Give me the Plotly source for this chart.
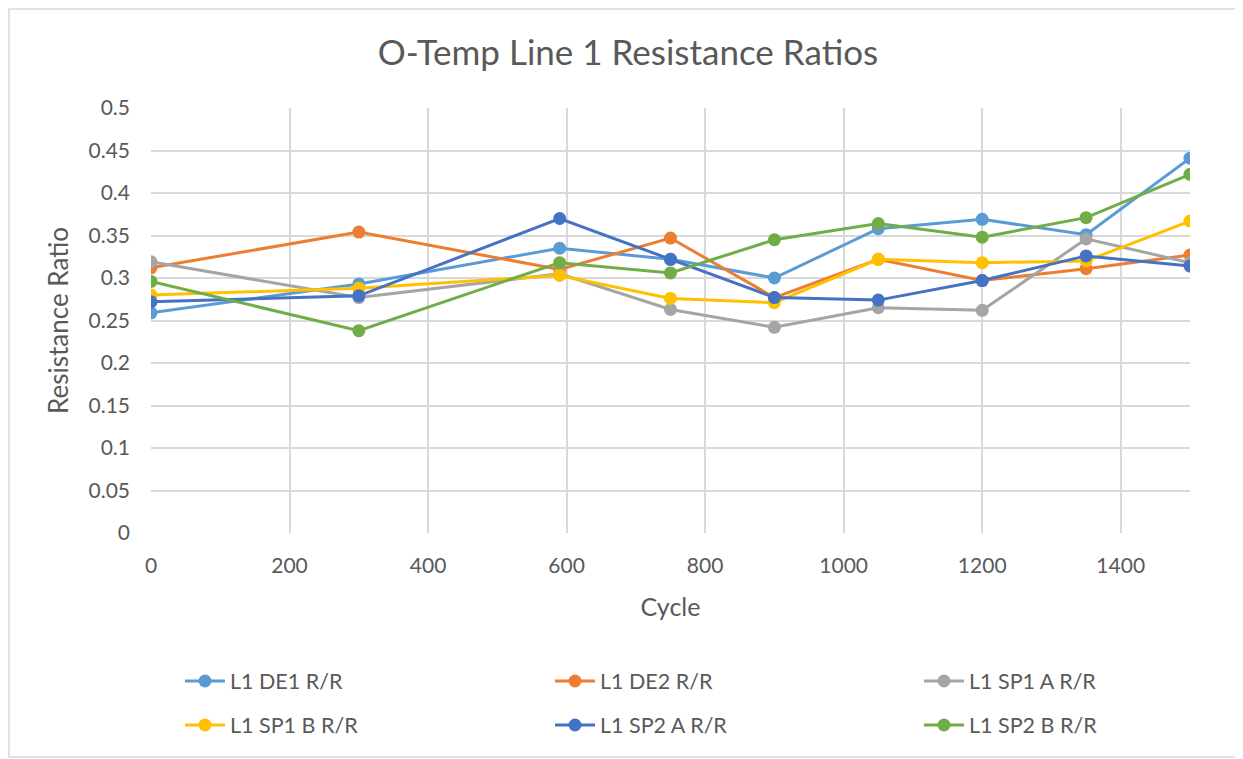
import plotly.graph_objects as go

# Datos
CICLOS = [0, 300, 590, 750, 900, 1050, 1200, 1350, 1500]

SERIES = [
    "L1 DE1 R/R",
    "L1 DE2 R/R",
    "L1 SP1 A R/R",
    "L1 SP1 B R/R",
    "L1 SP2 A R/R",
    "L1 SP2 B R/R",
]

DE1 = [0.259, 0.293, 0.335, 0.322, 0.300, 0.358, 0.369, 0.351, 0.441]
DE2 = [0.312, 0.354, 0.310, 0.347, 0.277, 0.322, 0.297, 0.311, 0.327]
SP1_A = [0.319, 0.277, 0.305, 0.263, 0.242, 0.265, 0.262, 0.346, 0.318]
SP1_B = [0.280, 0.288, 0.303, 0.276, 0.271, 0.322, 0.318, 0.320, 0.367]
SP2_A = [0.272, 0.279, 0.370, 0.322, 0.277, 0.274, 0.297, 0.326, 0.314]
SP2_B = [0.296, 0.238, 0.318, 0.306, 0.345, 0.364, 0.348, 0.371, 0.422]

VALORES = [DE1, DE2, SP1_A, SP1_B, SP2_A, SP2_B]

COLORES = ["#5B9BD5", "#ED7D31", "#A5A5A5", "#FFC000", "#4472C4", "#70AD47"]

FUENTE = "Lato, Open Sans, sans-serif"
GRIS = "#595959"
W, H = 1243, 759
OFF = 8  # margen por defecto del <body> en la página

# área de trazado en la imagen de referencia (px)
PX_L, PX_R, PX_T, PX_B = 151, 1190, 108, 533
PW, PH = PX_R - PX_L, PX_B - PX_T

# posición (px) de cada entrada de la leyenda: 3 columnas x 2 filas
COLS_PX = [172, 542, 911]
FILAS_PX = [673, 717]

fig = go.Figure()
leyendas = {}
for i, (nombre, ys, color) in enumerate(zip(SERIES, VALORES, COLORES)):
    clave = "legend" if i == 0 else f"legend{i + 1}"
    fig.add_trace(go.Scatter(
        x=CICLOS,
        y=ys,
        mode="lines+markers",
        name=nombre,
        line=dict(color=color, width=3),
        marker=dict(color=color, size=13),
        legend=clave,
    ))
    leyendas[clave] = dict(
        orientation="h",
        xref="container", yref="container",
        x=COLS_PX[i % 3] / W, xanchor="left",
        y=1 - FILAS_PX[i // 3] / H, yanchor="middle",
        font=dict(size=21.5, color=GRIS, family=FUENTE),
        itemwidth=40,
        bgcolor="rgba(0,0,0,0)",
    )

fig.update_layout(
    width=W,
    height=H,
    paper_bgcolor="white",
    plot_bgcolor="white",
    font=dict(family=FUENTE, color=GRIS, size=21),
    title=dict(
        text="O-Temp Line 1 Resistance Ratios",
        x=(628 - OFF) / W, xanchor="center",
        y=1 - 45 / H, yanchor="middle",
        font=dict(size=35, color=GRIS),
    ),
    margin=dict(l=PX_L - OFF, r=W - PX_R + OFF, t=PX_T - OFF, b=H - PX_B + OFF),
    xaxis=dict(
        title=dict(text="Cycle", font=dict(size=25, color=GRIS), standoff=22),
        range=[0, 1500],
        dtick=200,
        showgrid=True,
        gridcolor="#D9D9D9",
        gridwidth=1.5,
        zeroline=False,
        showline=False,
        tickfont=dict(size=21, color=GRIS),
        ticks="",
        ticklabelstandoff=18,
    ),
    yaxis=dict(
        title=dict(text="Resistance Ratio", font=dict(size=26, color=GRIS), standoff=12),
        range=[0, 0.5],
        dtick=0.05,
        showgrid=True,
        gridcolor="#D9D9D9",
        gridwidth=1.5,
        zeroline=False,
        showline=False,
        tickfont=dict(size=21, color=GRIS),
        ticks="",
        ticklabelstandoff=20,
    ),
    showlegend=True,
    **leyendas,
)

# marco exterior del gráfico (coordenadas de la figura, px)
PL, PT = PX_L - OFF, PX_T - OFF
fig.add_shape(
    type="rect", xref="paper", yref="paper",
    x0=(1 - PL) / PW, x1=(1230 - PL) / PW,
    y0=(PT + PH - 749) / PH, y1=(PT + PH - 1) / PH,
    line=dict(color="#D9D9D9", width=1.5),
)

fig.write_html("out.html")
